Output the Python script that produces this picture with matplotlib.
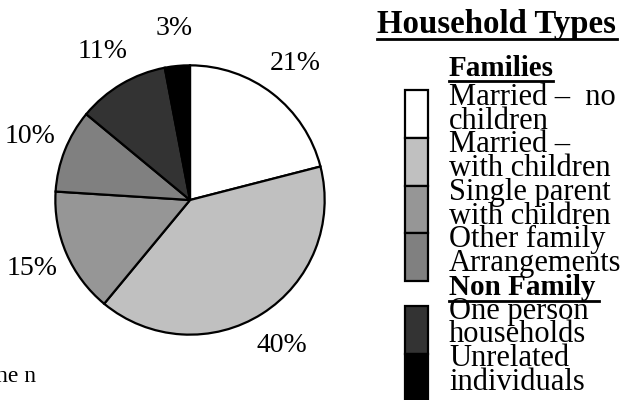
import matplotlib
matplotlib.use("Agg")
import matplotlib.pyplot as plt
from matplotlib.patches import Rectangle

plt.rcParams['font.family'] = ['Liberation Serif', 'DejaVu Serif']

# data
shares = [21, 40, 15, 10, 11, 3]
colors = ['#FFFFFF', '#C0C0C0', '#969696', '#808080', '#333333', '#000000']
pct_labels = ['21%', '40%', '15%', '10%', '11%', '3%']
family_labels = [['Married \u2013  no', 'children'],
                 ['Married \u2013', 'with children'],
                 ['Single parent', 'with children'],
                 ['Other family', 'Arrangements']]
nonfamily_labels = [['One person', 'households'],
                    ['Unrelated', 'individuals']]

fig = plt.figure(figsize=(6.36, 4.0), dpi=100)

# pie
ax = fig.add_axes([54 / 636, 64 / 400, 272 / 636, 272 / 400])
ax.pie(shares, colors=colors, labels=pct_labels, startangle=90, counterclock=False,
       labeldistance=1.28, radius=1,
       wedgeprops=dict(edgecolor='black', linewidth=1.6),
       textprops=dict(fontsize=20, ha='center', va='center'))
ax.set_xlim(-1.01, 1.01)
ax.set_ylim(-1.01, 1.01)
ax.set_aspect('equal')
ax.axis('off')

# legend panel in pixel coordinates
lg = fig.add_axes([0, 0, 1, 1], zorder=-1)
lg.set_xlim(0, 636)
lg.set_ylim(400, 0)
lg.axis('off')

lg.text(377, 33, 'Household Types', fontsize=23.7, fontweight='bold', va='baseline')
lg.plot([377, 617], [39, 39], color='black', lw=2)

lg.text(449, 76, 'Families', fontsize=21, fontweight='bold', va='baseline')
lg.plot([449, 553], [81, 81], color='black', lw=2)

step = 23.75
y = 105
box_top = 90
for i, lines in enumerate(family_labels):
    lg.add_patch(Rectangle((405, box_top + i * 47.75), 23, 47.75,
                           facecolor=colors[i], edgecolor='black', lw=1.6))
    for ln in lines:
        lg.text(449, y, ln, fontsize=22, va='baseline')
        y += step

lg.text(449, y, 'Non Family', fontsize=21, fontweight='bold', va='baseline')
lg.plot([449, 599], [301, 301], color='black', lw=2)
y += step

box_top = 306
for i, lines in enumerate(nonfamily_labels):
    lg.add_patch(Rectangle((405, box_top + i * 47.75), 23, 47.75,
                           facecolor=colors[4 + i], edgecolor='black', lw=1.6))
    for ln in lines:
        lg.text(449, y, ln, fontsize=22, va='baseline')
        y += step

lg.text(-4, 382, 'he n', fontsize=17, va='baseline')

fig.savefig('out.png', dpi=100)
